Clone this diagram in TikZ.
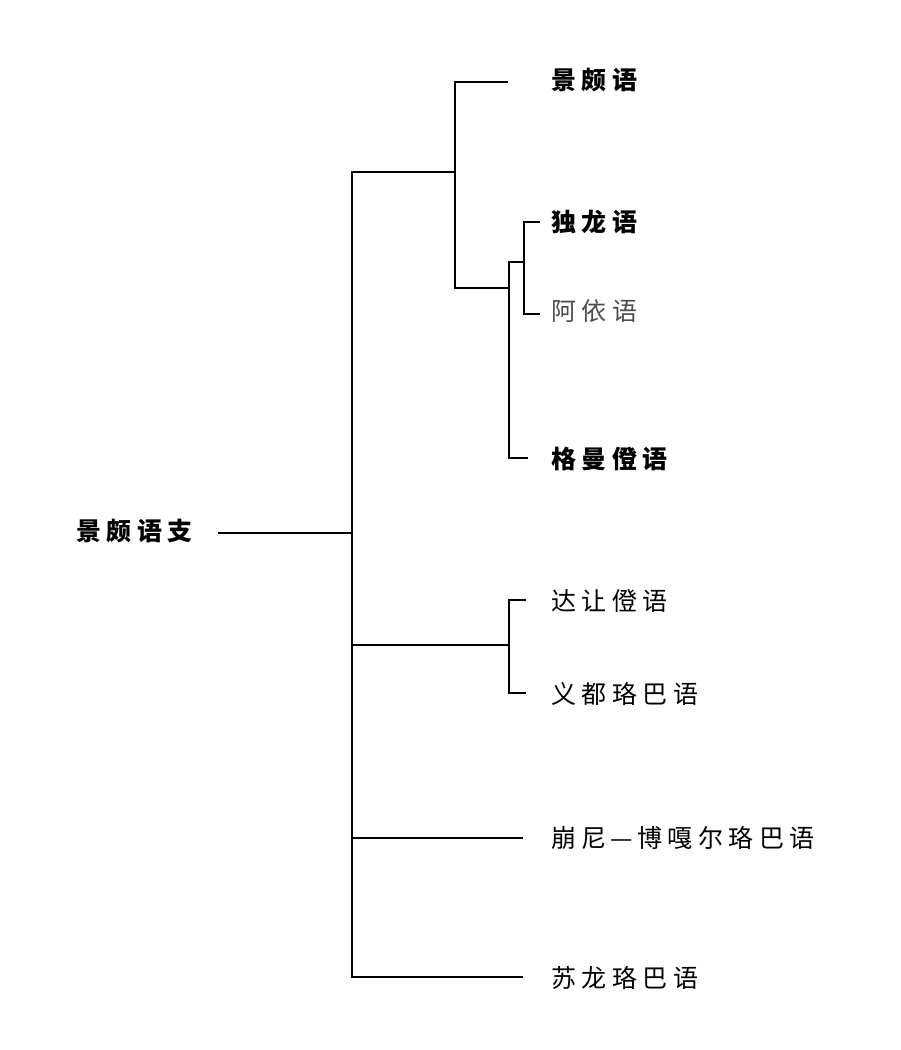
\documentclass[tikz,border=0pt]{standalone}
\usepackage{fontspec}
\newfontfamily\cjk[LetterSpace=22]{Noto Sans CJK SC}
\tikzstyle{lang} = [anchor=west, inner sep=0pt, font=\cjk\fontsize{25}{25}\selectfont]
\tikzstyle{boldlang} = [lang, font=\cjk\bfseries\fontsize{25}{25}\selectfont]
\tikzstyle{branch} = [line width=1.6pt]

\begin{document}
\begin{tikzpicture}[x=1pt,y=-1pt]
        \useasboundingbox (0,0) rectangle (900,1050);
        % labels
        \node[boldlang] at (76,531) (root) {景颇语支};
        \node[boldlang] at (551,80) (jingpo) {景颇语};
        \node[boldlang] at (551,222) (dulong) {独龙语};
        \node[lang, black!70] at (551,311) (ayi) {阿依语};
        \node[boldlang] at (551,459) (geman) {格曼僜语};
        \node[lang] at (551,601) (darang) {达让僜语};
        \node[lang] at (551,694) (yidu) {义都珞巴语};
        \node[lang] at (551,838) (bengni) {崩尼\makebox[1.22em]{—}博嘎尔珞巴语};
        \node[lang] at (551,978) (sulong) {苏龙珞巴语};

        % joints
        \coordinate (r) at (218,533);
        \coordinate (m) at (352,533);
        \coordinate (a) at (455,172);
        \coordinate (b) at (509,288);
        \coordinate (c) at (524,262);
        \coordinate (d) at (509,645);
        \coordinate (e1) at (508,82);
        \coordinate (e2) at (540,222);
        \coordinate (e3) at (540,314);
        \coordinate (e4) at (528,458);
        \coordinate (e5) at (526,600);
        \coordinate (e6) at (526,693);
        \coordinate (e7) at (523,838);
        \coordinate (e8) at (523,977);

        \draw[branch] (r) -- (m);
        \draw[branch] (m) |- (a) |- (e1);
        \draw[branch] (a) |- (b) |- (c) |- (e2);
        \draw[branch] (c) |- (e3);
        \draw[branch] (b) |- (e4);
        \draw[branch] (m) |- (d) |- (e5);
        \draw[branch] (d) |- (e6);
        \draw[branch] (m) |- (e7);
        \draw[branch] (m) |- (e8);
    \end{tikzpicture}
\end{document}
